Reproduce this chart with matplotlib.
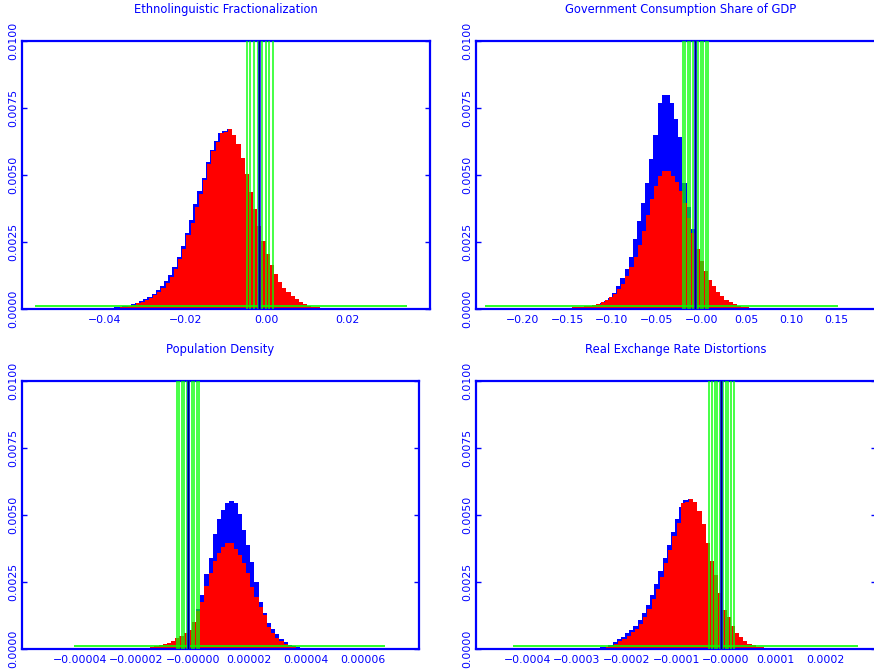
import numpy as np
import matplotlib
matplotlib.use("Agg")
import matplotlib.pyplot as plt

W, H = 874, 672
BLUE = "#0000ff"
RED = "#ff0000"
GREEN = "#00ff00"

y_ticks = [0.0, 0.0025, 0.0050, 0.0075, 0.0100]
y_labels = ["0.0000", "0.0025", "0.0050", "0.0075", "0.0100"]

# ---------------- Ethnolinguistic Fractionalization ----------------
eth_title = "Ethnolinguistic Fractionalization"
eth_bin = 0.001028
eth_red_start = -0.04136
eth_red = [0.02, 0.02, 0.03, 0.04, 0.05, 0.07, 0.09, 0.12, 0.16, 0.21,
           0.27, 0.33, 0.42, 0.52, 0.65, 0.80, 0.98, 1.20, 1.48, 1.85,
           2.25, 2.75, 3.20, 3.80, 4.30, 4.80, 5.40, 5.90, 6.24, 6.55,
           6.62, 6.70, 6.50, 6.15, 5.65, 5.05, 4.38, 3.75, 3.10, 2.55,
           2.05, 1.64, 1.30, 1.02, 0.80, 0.62, 0.48, 0.36, 0.26, 0.19,
           0.13, 0.09, 0.06, 0.04, 0.03, 0.02]
eth_blue_start = -0.04172
eth_blue = [0.03, 0.03, 0.04, 0.05, 0.06, 0.08, 0.10, 0.13, 0.17, 0.23,
            0.29, 0.36, 0.45, 0.56, 0.70, 0.86, 1.05, 1.28, 1.57, 1.95,
            2.36, 2.85, 3.32, 3.90, 4.40, 4.90, 5.48, 5.95, 6.28, 6.58,
            6.64, 6.70, 6.45, 6.05, 5.50, 4.90, 4.25, 3.60, 2.98, 2.45,
            1.95, 1.56, 1.22, 0.95, 0.74, 0.57, 0.44, 0.33, 0.24, 0.17,
            0.12, 0.08, 0.05, 0.04, 0.03, 0.02]
eth_green_range = (-0.0572, 0.0347)
eth_green_edges = [-0.00493, -0.00399, -0.00306, -0.00212, -0.00118,
                   -0.00025, 0.00069, 0.00163]
eth_center = -0.0018
eth_xlim = (-0.0603, 0.0403)
eth_xticks = [-0.04, -0.02, 0.0, 0.02]
eth_xlabels = ["\u22120.04", "\u22120.02", "0.00", "0.02"]

# ---------------- Government Consumption Share of GDP ----------------
gov_title = "Government Consumption Share of GDP"
gov_bin = 0.0046
gov_blue_start = -0.1596
gov_blue = [0.03, 0.03, 0.04, 0.04, 0.05, 0.06, 0.07, 0.09, 0.12, 0.16,
            0.22, 0.30, 0.42, 0.60, 0.85, 1.15, 1.50, 1.95, 2.60, 3.30,
            3.95, 4.70, 5.60, 6.50, 7.70, 8.00, 8.00, 7.70, 7.10, 6.40,
            4.70, 3.80, 3.00, 1.60, 1.00, 0.60, 0.35, 0.20, 0.13, 0.09,
            0.06, 0.05, 0.04, 0.03, 0.03, 0.02]
gov_red_start = -0.1634
gov_red = [0.04, 0.04, 0.05, 0.05, 0.06, 0.07, 0.08, 0.10, 0.12, 0.15,
           0.19, 0.25, 0.33, 0.43, 0.56, 0.73, 0.95, 1.22, 1.55, 1.95,
           2.40, 2.90, 3.50, 4.10, 4.60, 4.95, 5.14, 5.14, 4.95, 4.75,
           4.40, 3.95, 3.40, 2.85, 2.25, 1.80, 1.40, 1.08, 0.85, 0.65,
           0.47, 0.35, 0.26, 0.19, 0.13, 0.09, 0.06, 0.05, 0.04, 0.04,
           0.03]
gov_green_range = (-0.2415, 0.1520)
gov_green_edges = [-0.02118, -0.01833, -0.01547, -0.01262, -0.00977,
                   -0.00692, -0.00406, -0.00121, 0.00164, 0.00450, 0.00735]
gov_center = -0.0076
gov_xlim = (-0.2516, 0.2053)
gov_xticks = [-0.20, -0.15, -0.10, -0.05, 0.0, 0.05, 0.10, 0.15]
gov_xlabels = ["\u22120.20", "\u22120.15", "\u22120.10", "\u22120.05",
               "\u22120.00", "0.05", "0.10", "0.15"]

# ---------------- Population Density ----------------
pop_title = "Population Density"
pop_bin = 1.474e-6
pop_blue_start = -1.0625e-5
pop_blue = [0.01, 0.02, 0.04, 0.08, 0.15, 0.30, 0.55, 0.95,
            1.50, 2.00, 2.80, 3.40, 4.30, 4.85, 5.20, 5.43, 5.52, 5.43,
            5.05, 4.43, 3.88, 3.25, 2.50, 1.75, 1.35, 0.98, 0.75, 0.55,
            0.38, 0.25, 0.16, 0.10, 0.06, 0.03, 0.02]
pop_red_start = -2.2417e-5
pop_red = [0.01, 0.02, 0.03, 0.04, 0.05, 0.07, 0.10, 0.14, 0.18, 0.24,
           0.30, 0.40, 0.48, 0.58, 0.72, 1.00,
           1.40, 1.75, 2.35, 2.85, 3.30, 3.60, 3.80, 3.94, 3.96, 3.75,
           3.50, 3.20, 2.82, 2.32, 1.95, 1.58, 1.27, 0.82, 0.60, 0.42,
           0.28, 0.18, 0.11, 0.07, 0.04, 0.02]
pop_green_range = (-4.2e-5, 6.78e-5)
pop_green_edges = [-5.66e-6, -4.78e-6, -3.89e-6, -3.01e-6, -2.12e-6,
                   -1.24e-6, -0.35e-6, 0.53e-6, 1.41e-6, 2.30e-6]
pop_center = -1.66e-6
pop_xlim = (-6.04e-5, 8.0e-5)
pop_xticks = [-4e-5, -2e-5, 0.0, 2e-5, 4e-5, 6e-5]
pop_xlabels = ["\u22120.00004", "\u22120.00002", "\u22120.00000",
               "0.00002", "0.00004", "0.00006"]

# ---------------- Real Exchange Rate Distortions ----------------
rex_title = "Real Exchange Rate Distortions"
rex_bin = 8.39e-6
rex_red_start = -2.6708e-4
rex_red = [0.02, 0.03, 0.04, 0.06, 0.10, 0.20, 0.30, 0.38, 0.50, 0.62,
           0.75, 0.95, 1.20, 1.50, 1.85, 2.25, 2.70, 3.20, 3.70, 4.20,
           4.70, 5.45,
           5.50, 5.58, 5.50, 5.15, 4.65, 3.95, 3.30, 2.75, 2.10, 1.45,
           1.20, 0.87, 0.60, 0.45, 0.30, 0.20, 0.14, 0.09, 0.06, 0.04,
           0.02]
rex_blue_start = -2.7002e-4
rex_blue = [0.03, 0.04, 0.06, 0.09, 0.14, 0.25, 0.36, 0.45, 0.58, 0.72,
            0.86, 1.08, 1.34, 1.66, 2.02, 2.44, 2.90, 3.40, 3.88, 4.36,
            4.85, 5.30,
            5.55, 5.58, 5.45, 5.05, 4.50, 3.80, 3.15, 2.60, 1.95, 1.35,
            1.10, 0.80, 0.55, 0.40, 0.27, 0.18, 0.12, 0.08, 0.05, 0.03,
            0.02]
rex_green_range = (-4.28e-4, 2.65e-4)
rex_green_edges = [-3.36e-5, -2.81e-5, -2.25e-5, -1.70e-5, -1.15e-5,
                   -0.59e-5, -0.04e-5, 0.51e-5, 1.07e-5, 1.62e-5]
rex_center = -9.1e-6
rex_xlim = (-5.03e-4, 3.02e-4)
rex_xticks = [-4e-4, -3e-4, -2e-4, -1e-4, 0.0, 1e-4, 2e-4]
rex_xlabels = ["\u22120.0004", "\u22120.0003", "\u22120.0002", "\u22120.0001",
               "\u22120.0000", "0.0001", "0.0002"]

GREEN_BASE = 0.00012


def draw_panel(fig, box, title, bin_w, red_start, red, blue_start, blue,
               green_range, green_edges, center, xlim, xticks, xlabels):
    x0, y0, x1, y1 = box
    ax = fig.add_axes([x0 / W, 1 - y1 / H, (x1 - x0) / W, (y1 - y0) / H])

    b = np.array(blue) * 1e-3
    r = np.array(red) * 1e-3
    ax.stairs(b, blue_start + bin_w * np.arange(len(b) + 1), fill=True,
              color=BLUE, lw=0, zorder=1)
    ax.stairs(r, red_start + bin_w * np.arange(len(r) + 1), fill=True,
              color=RED, lw=0, zorder=2)

    # green histogram: flat near zero, bins of the spike run off the top
    ax.hlines(GREEN_BASE, green_range[0], green_range[1], color=GREEN,
              lw=1.3, alpha=0.9, zorder=3)
    ax.vlines(green_edges, 0, 0.0105, color=GREEN, lw=1.2, alpha=0.85,
              zorder=3)

    ax.axvline(center, color=BLUE, lw=1.8, zorder=4)
    ax.axvline(center, color="black", lw=0.4, zorder=5)

    ax.set_xlim(xlim)
    ax.set_ylim(0, 0.01)
    ax.set_xticks(xticks)
    ax.set_xticklabels(xlabels)
    ax.set_yticks(y_ticks)
    ax.set_yticklabels(y_labels, rotation=90, va="center")
    ax.tick_params(axis="x", length=0, pad=4, labelsize=7.8, colors=BLUE)
    ax.tick_params(axis="y", direction="in", length=3.6, width=1.0,
                   right=True, pad=2.5, labelsize=7.8, colors=BLUE)
    for s in ax.spines.values():
        s.set_color(BLUE)
        s.set_linewidth(1.6)
    ax.text(0.5, 1 + 31 / (y1 - y0), title, transform=ax.transAxes,
            ha="center", va="center", fontsize=8.3, color=BLUE)
    return ax


fig = plt.figure(figsize=(W / 100, H / 100), dpi=100)

draw_panel(fig, (22, 41, 430, 309), eth_title, eth_bin, eth_red_start, eth_red,
           eth_blue_start, eth_blue, eth_green_range, eth_green_edges,
           eth_center, eth_xlim, eth_xticks, eth_xlabels)
draw_panel(fig, (476, 41, 886, 309), gov_title, gov_bin, gov_red_start, gov_red,
           gov_blue_start, gov_blue, gov_green_range, gov_green_edges,
           gov_center, gov_xlim, gov_xticks, gov_xlabels)
draw_panel(fig, (22, 381, 419, 649), pop_title, pop_bin, pop_red_start, pop_red,
           pop_blue_start, pop_blue, pop_green_range, pop_green_edges,
           pop_center, pop_xlim, pop_xticks, pop_xlabels)
draw_panel(fig, (476, 381, 876, 649), rex_title, rex_bin, rex_red_start, rex_red,
           rex_blue_start, rex_blue, rex_green_range, rex_green_edges,
           rex_center, rex_xlim, rex_xticks, rex_xlabels)

fig.savefig("out.png", dpi=100)
